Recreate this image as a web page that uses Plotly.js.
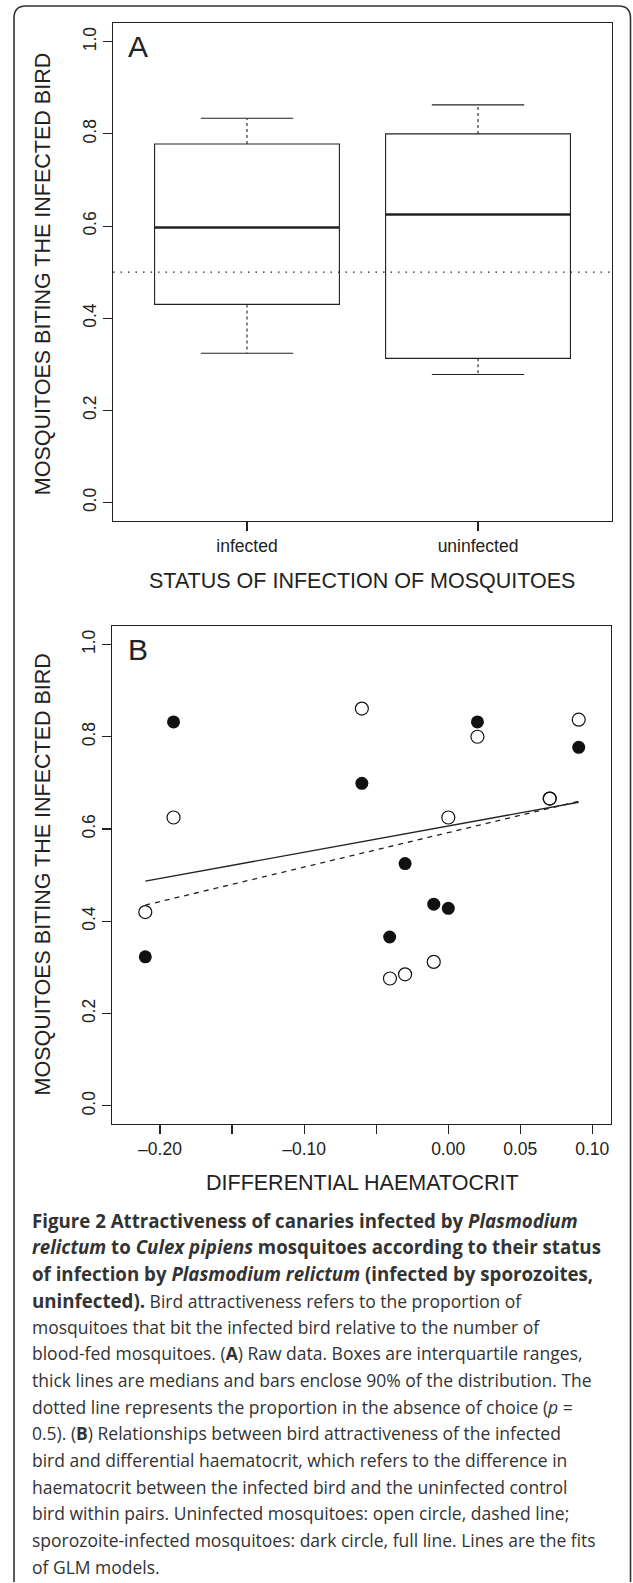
<!DOCTYPE html>
<html>
<head>
<meta charset="utf-8">
<script src="https://cdn.plot.ly/plotly-3.0.1.min.js"></script>
<style>
  html, body { margin: 0; padding: 0; background: #fff; }
  #chart { width: 633px; height: 1583px; }
</style>
</head>
<body>
<div id="chart"></div>
<script>
// ---------- Panel A data (box summaries) ----------
var categories = ['infected', 'uninfected'];
var lowerWhisker = [0.324, 0.278];
var q1Values = [0.430, 0.313];
var medianValues = [0.597, 0.625];
var q3Values = [0.778, 0.800];
var upperWhisker = [0.834, 0.863];
var chanceLevel = 0.5;

// ---------- Panel B data ----------
var infectedX = [-0.2102, -0.1906, -0.0599, -0.0406, -0.0299, -0.0100, 0.0001, 0.0203, 0.0906];
var infectedY = [0.323, 0.832, 0.699, 0.366, 0.525, 0.437, 0.428, 0.832, 0.777];
var uninfectedX = [-0.2102, -0.1906, -0.0599, -0.0404, -0.0299, -0.0100, 0.0001, 0.0203, 0.0705, 0.0705, 0.0906];
var uninfectedY = [0.420, 0.625, 0.861, 0.276, 0.285, 0.312, 0.625, 0.800, 0.666, 0.666, 0.837];
var fitInfectedX = [-0.2102, 0.0906];
var fitInfectedY = [0.487, 0.658];
var fitUninfectedX = [-0.2102, 0.0906];
var fitUninfectedY = [0.435, 0.660];

// ---------- Tick labels ----------
var yTickVals = [0, 0.2, 0.4, 0.6, 0.8, 1.0];
var yTickText = ['0.0', '0.2', '0.4', '0.6', '0.8', '1.0'];
var xBTickVals = [-0.20, -0.15, -0.10, -0.05, 0.00, 0.05, 0.10];
var xBTickText = ['\u20130.20', '', '\u20130.10', '', '0.00', '0.05', '0.10'];

// ---------- Caption ----------
var BS = '<span style="font-size:18.7px">';
var BE = '</span>';
var captionLines = [
  BS + '<b>Figure 2 Attractiveness of canaries infected by <i>Plasmodium</i></b>' + BE,
  BS + '<b><i>relictum</i> to <i>Culex pipiens</i> mosquitoes according to their status</b>' + BE,
  BS + '<b>of infection by <i>Plasmodium relictum</i> (infected by sporozoites,</b>' + BE,
  BS + '<b>uninfected).</b>' + BE + ' Bird attractiveness refers to the proportion of',
  'mosquitoes that bit the infected bird relative to the number of',
  'blood-fed mosquitoes. (<b>A</b>) Raw data. Boxes are interquartile ranges,',
  'thick lines are medians and bars enclose 90% of the distribution. The',
  'dotted line represents the proportion in the absence of choice (<i>p</i> =',
  '0.5). (<b>B</b>) Relationships between bird attractiveness of the infected',
  'bird and differential haematocrit, which refers to the difference in',
  'haematocrit between the infected bird and the uninfected control',
  'bird within pairs. Uninfected mosquitoes: open circle, dashed line;',
  'sporozoite-infected mosquitoes: dark circle, full line. Lines are the fits',
  'of GLM models.'
];

var W = 633, H = 1583;
function px(x) { return x / W; }
function py(y) { return 1 - y / H; }

var INK = '#222';
var axisFont = { family: 'Liberation Sans, Arial, sans-serif', size: 17.5, color: INK };
var titleFont = { family: 'Liberation Sans, Arial, sans-serif', size: 21.5, color: INK };

var catPos = categories.map(function (c, i) { return i + 1; });

var traces = [];
// Box bodies
traces.push({
  type: 'box', xaxis: 'x', yaxis: 'y',
  x: catPos, q1: q1Values, median: medianValues, q3: q3Values,
  lowerfence: q1Values, upperfence: q3Values,
  width: 0.8, whiskerwidth: 0,
  fillcolor: 'rgba(0,0,0,0)',
  line: { color: INK, width: 1.1 },
  boxpoints: false, hoverinfo: 'skip', showlegend: false
});
// Thick medians, whiskers, caps
catPos.forEach(function (c, i) {
  traces.push({
    type: 'scatter', mode: 'lines', xaxis: 'x', yaxis: 'y',
    x: [c - 0.4, c + 0.4], y: [medianValues[i], medianValues[i]],
    line: { color: INK, width: 2.6 }, hoverinfo: 'skip', showlegend: false
  });
  traces.push({
    type: 'scatter', mode: 'lines', xaxis: 'x', yaxis: 'y',
    x: [c, c, null, c, c], y: [q3Values[i], upperWhisker[i], null, q1Values[i], lowerWhisker[i]],
    line: { color: INK, width: 1.1, dash: '3px,3px' }, hoverinfo: 'skip', showlegend: false
  });
  traces.push({
    type: 'scatter', mode: 'lines', xaxis: 'x', yaxis: 'y',
    x: [c - 0.2, c + 0.2, null, c - 0.2, c + 0.2],
    y: [upperWhisker[i], upperWhisker[i], null, lowerWhisker[i], lowerWhisker[i]],
    line: { color: INK, width: 1.1 }, hoverinfo: 'skip', showlegend: false
  });
});

// Panel B
traces.push({
  type: 'scatter', mode: 'lines', xaxis: 'x2', yaxis: 'y2',
  x: fitInfectedX, y: fitInfectedY,
  line: { color: INK, width: 1.3 }, hoverinfo: 'skip', showlegend: false
});
traces.push({
  type: 'scatter', mode: 'lines', xaxis: 'x2', yaxis: 'y2',
  x: fitUninfectedX, y: fitUninfectedY,
  line: { color: INK, width: 1.3, dash: '5px,5px' }, hoverinfo: 'skip', showlegend: false
});
traces.push({
  type: 'scatter', mode: 'markers', xaxis: 'x2', yaxis: 'y2',
  x: infectedX, y: infectedY,
  marker: { symbol: 'circle', size: 13, color: '#111', line: { width: 0 } },
  hoverinfo: 'skip', showlegend: false
});
traces.push({
  type: 'scatter', mode: 'markers', xaxis: 'x2', yaxis: 'y2',
  x: uninfectedX, y: uninfectedY,
  marker: { symbol: 'circle-open', size: 13, color: '#111', line: { width: 1.2 } },
  hoverinfo: 'skip', showlegend: false
});

function baseAxis(extra) {
  var a = {
    showline: true, mirror: true, linecolor: INK, linewidth: 1.1,
    ticks: 'outside', ticklen: 9, tickwidth: 1.1, tickcolor: INK,
    showgrid: false, zeroline: false, tickfont: axisFont, fixedrange: true
  };
  for (var k in extra) a[k] = extra[k];
  return a;
}

var annotations = [];
// Panel letters
annotations.push({ xref: 'paper', yref: 'paper', x: px(126), y: py(46), xanchor: 'left', yanchor: 'middle',
  text: 'A', showarrow: false, font: { family: 'Liberation Sans, Arial, sans-serif', size: 30, color: INK } });
annotations.push({ xref: 'paper', yref: 'paper', x: px(126), y: py(650), xanchor: 'left', yanchor: 'middle',
  text: 'B', showarrow: false, font: { family: 'Liberation Sans, Arial, sans-serif', size: 30, color: INK } });
// Axis titles
annotations.push({ xref: 'paper', yref: 'paper', x: px(42.5), y: py(274.7), textangle: -90,
  xanchor: 'center', yanchor: 'middle', showarrow: false,
  text: 'MOSQUITOES BITING THE INFECTED BIRD', font: titleFont });
annotations.push({ xref: 'paper', yref: 'paper', x: px(362), y: py(580.7),
  xanchor: 'center', yanchor: 'middle', showarrow: false,
  text: 'STATUS OF INFECTION OF MOSQUITOES', font: titleFont });
annotations.push({ xref: 'paper', yref: 'paper', x: px(42.5), y: py(875), textangle: -90,
  xanchor: 'center', yanchor: 'middle', showarrow: false,
  text: 'MOSQUITOES BITING THE INFECTED BIRD', font: titleFont });
annotations.push({ xref: 'paper', yref: 'paper', x: px(362), y: py(1182.5),
  xanchor: 'center', yanchor: 'middle', showarrow: false,
  text: 'DIFFERENTIAL HAEMATOCRIT', font: titleFont });
// Caption
captionLines.forEach(function (t, i) {
  annotations.push({ xref: 'paper', yref: 'paper', x: px(30), y: py(1220 + 26.67 * i),
    xanchor: 'left', yanchor: 'middle', showarrow: false, align: 'left',
    text: t, font: { family: 'Open Sans, Noto Sans, sans-serif', size: 17.5, color: '#333' } });
});

// Outer rounded frame
var x0 = px(14), x1 = px(630.5), yt = py(6), yb = py(1582);
var rx = 12 / W, ry = 12 / H;
var framePath = 'M ' + x0 + ',' + yb + ' L ' + x0 + ',' + (yt - ry) +
  ' Q ' + x0 + ',' + yt + ' ' + (x0 + rx) + ',' + yt +
  ' L ' + (x1 - rx) + ',' + yt + ' Q ' + x1 + ',' + yt + ' ' + x1 + ',' + (yt - ry) +
  ' L ' + x1 + ',' + yb;

var layout = {
  width: W, height: H,
  margin: { l: 0, r: 0, t: 0, b: 0, pad: 0 },
  paper_bgcolor: '#fff', plot_bgcolor: '#fff',
  showlegend: false,
  xaxis: baseAxis({ domain: [px(113), px(612)], range: [0.42, 2.58], anchor: 'y',
    tickvals: catPos, ticktext: categories }),
  yaxis: baseAxis({ domain: [py(521), py(23.3)], range: [-0.04, 1.04], anchor: 'x',
    tickvals: yTickVals, ticktext: yTickText, tickangle: -90 }),
  xaxis2: baseAxis({ domain: [px(112), px(610.7)], range: [-0.2333, 0.1128], anchor: 'y2',
    tickvals: xBTickVals, ticktext: xBTickText }),
  yaxis2: baseAxis({ domain: [py(1124.3), py(626)], range: [-0.04, 1.04], anchor: 'x2',
    tickvals: yTickVals, ticktext: yTickText, tickangle: -90 }),
  shapes: [
    { type: 'line', xref: 'x domain', yref: 'y', x0: 0, x1: 1, y0: chanceLevel, y1: chanceLevel,
      line: { color: INK, width: 1.1, dash: '1.5px,6px' } },
    { type: 'path', xref: 'paper', yref: 'paper', path: framePath,
      line: { color: '#333', width: 1.6 } }
  ],
  annotations: annotations
};

Plotly.newPlot('chart', traces, layout, { staticPlot: true, displayModeBar: false });
</script>
</body>
</html>
